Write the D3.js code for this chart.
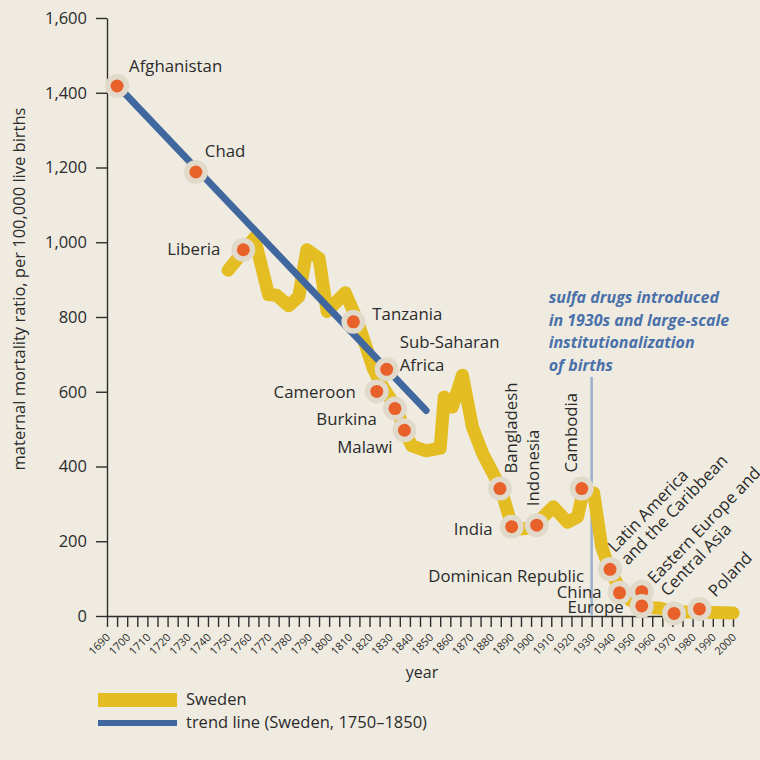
<!DOCTYPE html>
<html>
<head>
<meta charset="utf-8">
<script src="https://cdn.jsdelivr.net/npm/d3@7"></script>
<style>
  html, body { margin: 0; padding: 0; background: #efebe1; }
  svg { display: block; }
  text { font-family: "Open Sans", sans-serif; fill: #2b2b2b; }
</style>
</head>
<body>
<svg id="chart" width="760" height="760"></svg>
<script>
// Sweden: maternal mortality ratio per 100,000 live births
const swedenYears  = [1750, 1763, 1770, 1774, 1780, 1785, 1789, 1795, 1799, 1808, 1814, 1822, 1826, 1834, 1837, 1841, 1848, 1855, 1857, 1861, 1866, 1871, 1876, 1885, 1890, 1893, 1898, 1903, 1911, 1918, 1923, 1926, 1931, 1935, 1939, 1944, 1949, 1955, 1964, 1970, 1980, 2000];
const swedenValues = [925, 1012, 860, 858, 830, 855, 980, 957, 815, 865, 790, 660, 618, 550, 497, 455, 442, 449, 586, 559, 644, 505, 435, 342, 249, 232, 235, 249, 292, 251, 265, 337, 329, 185, 123, 72, 43, 24, 21, 11, 11, 8];

// Trend line fitted to Sweden 1750-1850, extended back
const trendYears  = [1695, 1848];
const trendValues = [1420, 550];

// Present-day countries and regions placed on the Swedish curve
const countryNames  = ["Afghanistan", "Chad", "Liberia", "Tanzania", "Sub-Saharan Africa", "Cameroon", "Burkina", "Malawi", "Bangladesh", "India", "Indonesia", "Cambodia", "Dominican Republic", "Latin America and the Caribbean", "China", "Eastern Europe and Central Asia", "Europe", "", "Poland"];
const countryYears  = [1695, 1734, 1757.5, 1812, 1828.5, 1823.6, 1832.6, 1837.3, 1884.6, 1890.4, 1902.8, 1925.1, 1939.1, 1939.1, 1943.8, 1954.8, 1954.8, 1970.8, 1983.4];
const countryValues = [1418, 1188, 980, 787, 660, 601, 555, 497, 341, 239, 243, 341, 125, 125, 62, 65, 27, 7, 19];

const yTickValues = [0, 200, 400, 600, 800, 1000, 1200, 1400, 1600];
const xTickYears  = d3.range(1690, 2001, 5);
const xLabelYears = d3.range(1690, 2001, 10);

const annotationYear = 1930;
const annotationTop  = 640;
const annotationLines = ["sulfa drugs introduced", "in 1930s and large-scale", "institutionalization", "of births"];

// Label placement relative to each dot
const labelLayout = {
  "Afghanistan":        { dx: 12,  dy: -14, anchor: "start", rot: 0,   lines: ["Afghanistan"] },
  "Chad":               { dx: 9,   dy: -15, anchor: "start", rot: 0,   lines: ["Chad"] },
  "Liberia":            { dx: -23, dy: 5,   anchor: "end",   rot: 0,   lines: ["Liberia"] },
  "Tanzania":           { dx: 19,  dy: -2,  anchor: "start", rot: 0,   lines: ["Tanzania"] },
  "Sub-Saharan Africa": { dx: 13,  dy: -21, anchor: "start", rot: 0,   lines: ["Sub-Saharan", "Africa"], lh: 22.7 },
  "Cameroon":           { dx: -21, dy: 7,   anchor: "end",   rot: 0,   lines: ["Cameroon"] },
  "Burkina":            { dx: -18, dy: 16,  anchor: "end",   rot: 0,   lines: ["Burkina"] },
  "Malawi":             { dx: -12, dy: 23,  anchor: "end",   rot: 0,   lines: ["Malawi"] },
  "Bangladesh":         { dx: 17,  dy: -15, anchor: "start", rot: -90, lines: ["Bangladesh"] },
  "India":              { dx: -19, dy: 8,   anchor: "end",   rot: 0,   lines: ["India"] },
  "Indonesia":          { dx: 2,   dy: -19, anchor: "start", rot: -90, lines: ["Indonesia"] },
  "Cambodia":           { dx: -5,  dy: -16, anchor: "start", rot: -90, lines: ["Cambodia"] },
  "Dominican Republic": { dx: -26, dy: 13,  anchor: "end",   rot: 0,   lines: ["Dominican Republic"] },
  "Latin America and the Caribbean": { dx: 5, dy: -16, anchor: "start", rot: -46, lines: ["Latin America", "and the Caribbean"], lh: 18 },
  "China":              { dx: -18, dy: 5,   anchor: "end",   rot: 0,   lines: ["China"] },
  "Eastern Europe and Central Asia": { dx: 13, dy: -7, anchor: "start", rot: -46, lines: ["Eastern Europe and", "Central Asia"], lh: 18 },
  "Europe":             { dx: -18, dy: 7,   anchor: "end",   rot: 0,   lines: ["Europe"] },
  "Poland":             { dx: 16,  dy: -11, anchor: "start", rot: -46, lines: ["Poland"] }
};

const colors = {
  sweden: "#e4bd22",
  trend: "#40689f",
  dot: "#e8612a",
  halo: "#e1dacb",
  axis: "#2e2e2e",
  note: "#4a70a9",
  noteLine: "#9cb0ca"
};

const svg = d3.select("#chart");

const x = d3.scaleLinear().domain([1690, 2000]).range([107, 733]);
const y = d3.scaleLinear().domain([0, 1600]).range([616, 18]);

// Y axis
const yAxis = svg.append("g")
  .attr("transform", `translate(${x(1690)},0)`)
  .call(d3.axisLeft(y).tickValues(yTickValues).tickFormat(d3.format(",")).tickSize(11).tickSizeOuter(0).tickPadding(9));
yAxis.selectAll("path, line").attr("stroke", colors.axis).attr("stroke-width", 1.4);
yAxis.selectAll("text").attr("font-family", "Open Sans, sans-serif").attr("font-size", 16.5).attr("fill", "#2b2b2b");

// X axis
const xAxis = svg.append("g")
  .attr("transform", `translate(0,${y(0)})`)
  .call(d3.axisBottom(x).tickValues(xTickYears).tickFormat("").tickSize(11).tickSizeOuter(0));
xAxis.selectAll("path, line").attr("stroke", colors.axis).attr("stroke-width", 1.4);

svg.append("g").selectAll("text")
  .data(xLabelYears)
  .join("text")
  .attr("transform", d => `translate(${x(d) + 4},${y(0) + 22}) rotate(-45)`)
  .attr("text-anchor", "end")
  .attr("font-size", 11)
  .text(d => d);

// Axis titles
svg.append("text")
  .attr("transform", `translate(25,289) rotate(-90)`)
  .attr("text-anchor", "middle")
  .attr("font-size", 16.5)
  .text("maternal mortality ratio, per 100,000 live births");

svg.append("text")
  .attr("x", (x(1690) + x(2000)) / 2 + 2)
  .attr("y", 678)
  .attr("text-anchor", "middle")
  .attr("font-size", 16)
  .text("year");

// Annotation marker for the 1930s
svg.append("line")
  .attr("x1", x(annotationYear)).attr("x2", x(annotationYear))
  .attr("y1", y(annotationTop)).attr("y2", y(0))
  .attr("stroke", colors.noteLine)
  .attr("stroke-width", 2.5);

svg.append("g").selectAll("text")
  .data(annotationLines)
  .join("text")
  .attr("x", x(annotationYear) - 43)
  .attr("y", (d, i) => 303 + i * 22.5)
  .attr("font-size", 16)
  .attr("font-weight", 700)
  .attr("font-style", "italic")
  .style("fill", colors.note)
  .text(d => d);

// Sweden series
const sweden = swedenYears.map((yr, i) => [yr, swedenValues[i]]);
const line = d3.line().x(d => x(d[0])).y(d => y(d[1]));

svg.append("path")
  .datum(sweden)
  .attr("d", line)
  .attr("fill", "none")
  .attr("stroke", colors.sweden)
  .attr("stroke-width", 13)
  .attr("stroke-linejoin", "round")
  .attr("stroke-linecap", "round");

// Trend line
const trend = trendYears.map((yr, i) => [yr, trendValues[i]]);
svg.append("path")
  .datum(trend)
  .attr("d", line)
  .attr("fill", "none")
  .attr("stroke", colors.trend)
  .attr("stroke-width", 7)
  .attr("stroke-linecap", "round");

// Country dots
const countries = countryNames.map((n, i) => ({ name: n, year: countryYears[i], value: countryValues[i] }));

const dots = svg.append("g").selectAll("g")
  .data(countries)
  .join("g")
  .attr("transform", d => `translate(${x(d.year)},${y(d.value)})`);
dots.append("circle").attr("r", 12).attr("fill", colors.halo);
dots.append("circle").attr("r", 6.5).attr("fill", colors.dot);

// Country labels
const labels = svg.append("g").selectAll("text")
  .data(countries.filter(d => labelLayout[d.name]))
  .join("text")
  .attr("font-size", 16.8)
  .attr("text-anchor", d => labelLayout[d.name].anchor)
  .attr("transform", d => {
    const L = labelLayout[d.name];
    return `translate(${x(d.year) + L.dx},${y(d.value) + L.dy}) rotate(${L.rot})`;
  });

labels.selectAll("tspan")
  .data(d => labelLayout[d.name].lines.map((t, i) => ({ t, i, lh: labelLayout[d.name].lh || 0 })))
  .join("tspan")
  .attr("x", 0)
  .attr("y", d => d.i * d.lh)
  .text(d => d.t);

// Legend
const legend = svg.append("g");
legend.append("rect").attr("x", 98).attr("y", 693).attr("width", 79).attr("height", 14).attr("fill", colors.sweden);
legend.append("rect").attr("x", 98).attr("y", 720).attr("width", 79).attr("height", 6).attr("fill", colors.trend);
legend.append("text").attr("x", 186).attr("y", 705).attr("font-size", 16.5).text("Sweden");
legend.append("text").attr("x", 186).attr("y", 728).attr("font-size", 16.5).text("trend line (Sweden, 1750\u20131850)");
</script>
</body>
</html>
